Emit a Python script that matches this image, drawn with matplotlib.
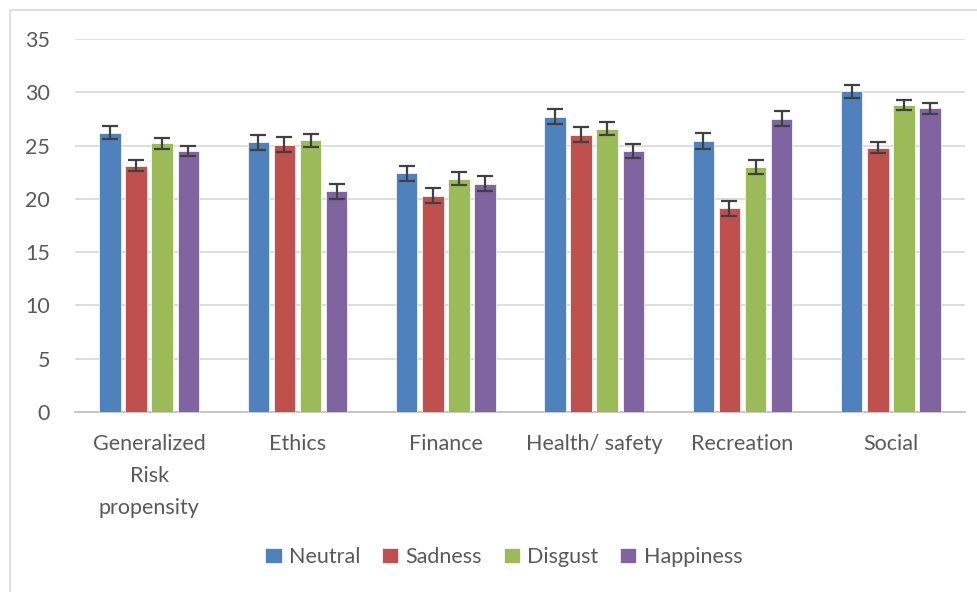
import numpy as np
import matplotlib.pyplot as plt
from matplotlib.patches import Rectangle

categories = ["Generalized\nRisk\npropensity", "Ethics", "Finance", "Health/ safety", "Recreation", "Social"]
series = ["Neutral", "Sadness", "Disgust", "Happiness"]
colors = ["#4F81BD", "#C0504D", "#9BBB59", "#8064A2"]

neutral = [26.2, 25.3, 22.4, 27.7, 25.4, 30.1]
sadness = [23.1, 25.1, 20.3, 26.0, 19.1, 24.8]
disgust = [25.2, 25.5, 21.9, 26.6, 23.0, 28.8]
happiness = [24.5, 20.7, 21.4, 24.5, 27.5, 28.5]

neutral_err = [0.6, 0.7, 0.7, 0.7, 0.75, 0.6]
sadness_err = [0.5, 0.7, 0.7, 0.7, 0.7, 0.5]
disgust_err = [0.5, 0.6, 0.6, 0.6, 0.65, 0.45]
happiness_err = [0.5, 0.7, 0.7, 0.65, 0.7, 0.5]

values = [neutral, sadness, disgust, happiness]
errors = [neutral_err, sadness_err, disgust_err, happiness_err]

plt.rcParams['font.family'] = ['Lato', 'DejaVu Sans']
text_color = "#595959"

fig = plt.figure(figsize=(9.78, 5.92), dpi=100)
ax = fig.add_axes([75 / 978, 1 - 412 / 592, 890 / 978, (412 - 39) / 592])

# light frame around the whole chart
fig.patches.append(Rectangle((10 / 978, -0.01), 1.0, 1 - 10 / 592 + 0.01,
                             transform=fig.transFigure, fill=False,
                             edgecolor="#d9d9d9", linewidth=1.2))

x = np.arange(len(categories))
step = 0.176
width = 0.145
for i, (name, vals, errs) in enumerate(zip(series, values, errors)):
    pos = x + (i - 1.5) * step
    ax.bar(pos, vals, width, color=colors[i], label=name, zorder=3,
           edgecolor="white", linewidth=0.5)
    ax.errorbar(pos, vals, yerr=errs, fmt="none", ecolor="#404040",
                elinewidth=1.6, capsize=6, capthick=1.6, zorder=4)

ax.set_xlim(-0.5, len(categories) - 0.5)
ax.set_ylim(0, 35)
ax.set_yticks(range(0, 36, 5))
ax.yaxis.grid(True, color="#d9d9d9", linewidth=1.2, zorder=0)
ax.set_axisbelow(True)
for s in ["top", "right", "left"]:
    ax.spines[s].set_visible(False)
ax.spines["bottom"].set_color("#bfbfbf")
ax.spines["bottom"].set_linewidth(1.2)

ax.set_xticks(x)
ax.set_xticklabels(categories, fontsize=15.5, color=text_color, linespacing=1.75)
ax.tick_params(axis="both", length=0, labelsize=15.5, colors=text_color)
ax.tick_params(axis="x", pad=16)
ax.tick_params(axis="y", pad=18)

fig.legend(loc="center", bbox_to_anchor=(504 / 978, 1 - 557 / 592), ncol=4,
           frameon=False, fontsize=15.5, handlelength=0.75, handleheight=0.75,
           handletextpad=0.35, columnspacing=1.0, labelcolor=text_color)

fig.savefig("out.png", dpi=100)
